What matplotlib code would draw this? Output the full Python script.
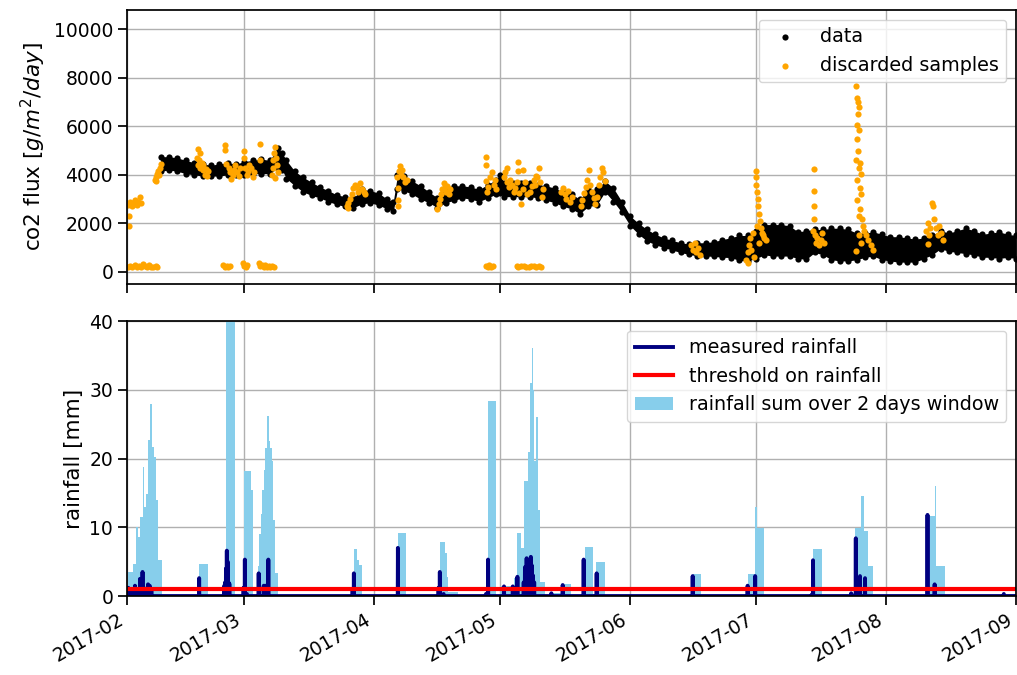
import numpy as np
import matplotlib
matplotlib.use("Agg")
import matplotlib.pyplot as plt
import matplotlib.dates as mdates

# all times are days since 2017-02-01
t0 = mdates.date2num(np.datetime64("2017-02-01"))
t1 = mdates.date2num(np.datetime64("2017-09-01"))

# co2 flux envelope (daily low / high of the kept samples)
flux_day = [8, 10, 12, 14, 16, 18, 20, 22, 24, 26, 28, 30, 32, 34, 36, 37, 38, 40, 42, 44,
            46, 48, 50, 52, 54, 56, 58, 60, 62, 63.5, 64.5, 66, 68, 70, 72, 74, 76, 78, 80, 82,
            84, 86, 88, 89, 90, 92, 94, 96, 98, 100, 102, 104, 106, 108, 110, 112, 114, 116, 118, 120,
            122, 124, 126, 128, 130, 132, 134, 136, 138, 140, 142, 144, 146, 148, 150, 152, 154, 156, 158, 160,
            162, 164, 166, 168, 170, 172, 174, 176, 178, 180, 182, 184, 186, 188, 190, 192, 194, 196, 198, 200,
            202, 204, 206, 208, 210, 212]
flux_low = [4150, 4200, 4150, 4050, 4000, 3950, 3950, 3950, 4000, 4000, 4000, 4050, 4050, 4050, 4300, 4200, 3850, 3550, 3300, 3150,
            3050, 2900, 2780, 2700, 2650, 2800, 2850, 2750, 2600, 2500, 3400, 3350, 3200, 3000, 2850, 2650, 2850, 2950, 3050, 3000,
            2900, 3050, 3200, 3250, 3100, 3100, 3100, 3100, 3050, 2950, 2850, 2700, 2600, 2400, 2700, 2750, 3300, 2900, 2450, 1900,
            1550, 1270, 1120, 1000, 900, 800, 720, 660, 650, 640, 600, 590, 470, 450, 550, 700, 650, 650, 650, 550,
            520, 800, 700, 500, 450, 450, 500, 600, 650, 500, 450, 400, 400, 400, 550, 700, 950, 850, 800, 750,
            700, 600, 600, 550, 600, 550]
flux_high = [4750, 4750, 4700, 4600, 4500, 4450, 4400, 4450, 4500, 4450, 4550, 4600, 4650, 4600, 5100, 4900, 4600, 4150, 3900, 3700,
             3500, 3350, 3180, 3100, 3050, 3400, 3350, 3250, 3000, 2900, 4000, 3950, 3750, 3550, 3300, 3050, 3500, 3550, 3550, 3500,
             3400, 3600, 3800, 4000, 3650, 3650, 3650, 3650, 3600, 3550, 3450, 3300, 3200, 3000, 3400, 3400, 3750, 3450, 2900, 2300,
             2000, 1750, 1550, 1400, 1300, 1200, 1150, 1200, 1200, 1250, 1330, 1410, 1500, 1500, 1700, 1950, 1950, 1950, 1900, 1650,
             1700, 1750, 1750, 1800, 1800, 1750, 1600, 1600, 1650, 1550, 1450, 1450, 1400, 1350, 1400, 1500, 1700, 1600, 1700, 1800,
             1700, 1550, 1600, 1650, 1550, 1500]

# samples discarded because of rain
drop_day = [0.3, 0.6, 0.9, 1.2, 1.5, 1.8, 2.1, 2.4, 2.7, 3.0, 3.3, 0.5, 0.4,
            0.3, 0.8, 1.3, 1.8, 2.3, 2.8, 3.3, 3.8, 4.3, 4.8, 5.3, 5.8, 6.3, 6.8, 7.2,
            6.6, 6.9, 7.2, 7.5, 7.8, 8.1, 7.0, 7.6,
            16.7, 16.9, 17.1, 17.3, 17.5, 17.8, 18.0, 18.2, 18.5, 18.8, 19.1, 19.3, 17.0,
            24.3, 24.6, 24.9, 25.2, 25.5, 25.8, 26.2, 26.6, 26.9, 23.3, 23.3, 23.6,
            23.0, 23.4, 23.8, 24.2, 24.6, 27.7, 28.0, 28.4, 28.7,
            27.8, 28.0, 28.2, 28.5, 28.8, 29.2, 29.6, 30.0, 30.3, 31.7, 31.7,
            31.4, 31.8, 32.2, 32.6, 33.0, 33.4, 33.8, 34.2, 34.6, 35.0,
            34.5, 34.7, 34.9, 35.1, 35.3, 35.5, 35.7, 35.9, 35.2,
            52.4, 52.8, 53.2, 53.6, 54.0, 54.4, 54.8, 55.2, 55.6, 56.0, 56.4, 56.8, 52.6,
            64.6, 64.6, 64.6, 64.5, 64.8, 65.0, 65.3, 65.6, 65.9, 66.3, 66.7,
            74.0, 74.3, 74.6, 74.9, 75.2, 75.5, 75.8, 76.1, 76.4, 76.8, 77.1,
            85.5, 85.5, 85.5, 85.8, 86.2, 86.6, 87.0, 87.4, 87.8, 88.1,
            85.6, 86.0, 86.4, 86.8, 87.2,
            89.8, 90.2, 90.6, 91.0, 91.4, 91.8, 92.2, 92.6, 93.0, 93.5, 94.0, 94.5, 95.0, 95.4, 90.7, 93.2, 94.5, 93.2,
            92.9, 93.3, 94.0, 94.6, 95.2, 95.8, 96.4, 97.0, 97.6, 98.2, 98.7,
            96.2, 96.6, 97.0, 97.4, 97.8, 98.2, 98.5, 98.9, 99.2, 97.5,
            103.6, 104.0, 104.4, 104.8, 105.2, 105.6, 106.0,
            108.2, 108.6, 109.0, 109.4, 109.8, 110.2, 110.5, 110.9, 111.3, 111.7, 112.1, 112.5, 112.9, 113.3, 113.6, 113.9,
            134.6, 135.0, 135.4, 135.8, 136.2, 136.6,
            147.7, 148.0, 148.3, 148.6, 148.9, 149.2, 149.5, 148.1,
            149.9, 150.0, 150.1, 150.2, 150.4, 150.5, 150.7, 150.9, 151.1, 151.4, 151.7, 152.0, 152.3, 150.3, 150.6,
            163.9, 163.9, 163.9, 163.9, 163.7, 164.0, 164.3, 164.6, 165.0, 165.4, 165.8, 166.2,
            173.9, 174.1, 174.4, 174.6, 174.3, 174.0, 174.1, 174.5, 174.3, 173.9, 174.6, 174.9, 175.0, 174.2,
            174.7, 175.0, 174.1, 174.8, 174.5, 175.2, 175.4, 175.8, 176.3, 176.8, 177.4, 177.9, 173.9, 174.6, 175.0,
            190.6, 190.9, 191.2, 191.6, 192.0, 192.2, 192.5, 192.9, 193.3, 193.7, 194.2, 194.7, 190.9]
drop_flux = [2750, 2900, 2800, 2700, 2850, 2950, 2800, 2750, 2900, 3080, 2850, 2300, 1880,
             200, 250, 180, 300, 220, 260, 200, 320, 250, 200, 270, 220, 180, 250, 200,
             3800, 3900, 4050, 4150, 4300, 4450, 3750, 4000,
             4700, 4400, 4600, 4900, 4300, 4500, 4200, 4400, 4000, 4250, 3950, 4150, 5050,
             4300, 4100, 3850, 4000, 4200, 4400, 4100, 3950, 4300, 5230, 5030, 4450,
             300, 200, 250, 180, 230, 350, 250, 200, 300,
             5000, 4700, 4300, 4000, 4150, 4400, 4300, 3900, 4100, 5290, 4620,
             350, 250, 300, 200, 280, 220, 260, 200, 240, 210,
             4000, 4300, 4600, 4900, 5160, 4700, 4400, 4100, 3870,
             2700, 2850, 3000, 3200, 3450, 3600, 3500, 3300, 3650, 3400, 3300, 3200, 2650,
             3450, 2970, 2700, 3900, 4150, 4350, 4000, 4200, 3900, 3700, 3800,
             2600, 2800, 3000, 3200, 3400, 3650, 3500, 3300, 3550, 3200, 3400,
             4750, 4410, 3730, 3300, 3500, 3900, 4100, 3600, 3800, 3400,
             250, 200, 300, 220, 260,
             3900, 4100, 3700, 3500, 3800, 3600, 3300, 3450, 3700, 3250, 2800, 3400, 3700, 3200, 4270, 4550, 4200, 4140,
             250, 200, 230, 250, 220, 200, 250, 230, 210, 240, 220,
             3300, 3550, 3800, 3600, 3900, 4270, 3700, 3100, 3400, 3950,
             3300, 3450, 3200, 3000, 3350, 2900, 3100,
             2700, 2950, 3250, 3500, 3800, 4200, 3600, 3300, 3050, 2800, 3100, 3600, 3900, 4300, 4100, 3750,
             1100, 900, 1200, 800, 1000, 700,
             500, 800, 1100, 1400, 900, 1600, 600, 380,
             4150, 3900, 3600, 3300, 3000, 2700, 2400, 2100, 1800, 1600, 1500, 1400, 1300, 1900, 1200,
             4230, 3330, 2720, 2170, 1700, 1500, 1200, 1400, 1100, 1300, 1600, 1200,
             7680, 7150, 7000, 6800, 6500, 6050, 5460, 5870, 4980, 4600, 4300, 4500, 4050, 3800,
             3470, 3200, 2950, 2580, 2300, 2200, 1900, 1700, 1500, 1300, 1100, 900, 865, 1500, 1200,
             1700, 2000, 1500, 1800, 2850, 2700, 2200, 1800, 1500, 1900, 1600, 1300, 1150]

# hourly rain gauge readings (only the non-zero ones)
rain_day = [0.3, 0.6, 1.0, 1.9, 2.3, 3.1, 3.4, 3.7, 4.0, 4.4, 5.0, 5.4, 5.8,
            17.2, 23.2, 23.4, 23.6, 23.8, 24.0, 24.2, 24.4,
            27.8, 28.1, 28.6, 31.4, 32.6, 33.0, 33.7,
            53.8, 54.1, 64.6, 74.3, 74.6, 75.5, 85.6, 86.1,
            89.9, 92.0, 93.1, 94.6, 94.9, 95.1, 95.3, 95.5, 95.8, 96.0, 96.3, 96.5, 96.8, 97.1,
            101.2, 103.9, 108.9, 112.0, 134.9, 148.0, 149.8, 163.3, 163.6,
            172.7, 173.8, 174.8, 176.0, 190.9, 192.6, 209.1]
rain_mm = [1.2, 1.0, 0.8, 1.5, 0.8, 2.5, 1.5, 3.5, 1.2, 1.0, 1.7, 1.5, 0.8,
           2.6, 1.5, 2.0, 4.0, 6.6, 5.0, 2.0, 1.8,
           1.2, 5.3, 0.3, 3.3, 1.5, 1.5, 5.3,
           1.0, 3.3, 7.0, 1.2, 3.5, 0.3, 0.3, 5.3,
           1.4, 1.4, 2.8, 2.0, 4.2, 3.5, 5.5, 4.8, 5.2, 4.0, 5.7, 4.5, 3.0, 2.0,
           0.4, 1.6, 5.3, 3.3, 2.9, 1.5, 2.9, 0.2, 5.2,
           0.4, 8.4, 2.9, 2.6, 11.8, 1.7, 0.3]

# rolling 2-day rain sum (value holds until the next entry)
sum_day = [0.3, 1.5, 2.1, 2.5, 3.1, 3.7, 4.1, 4.5, 4.9, 5.5, 5.9, 6.5, 6.9, 7.5, 8.3,
           17.2, 19.2,
           23.4, 23.7, 25.8,
           27.4, 27.9, 29.6, 30.1,
           31.3, 31.5, 31.9, 32.2, 32.6, 33.0, 33.5, 33.8, 34.2, 34.5, 34.9, 35.4, 36.0,
           53.3, 53.9, 54.1, 54.9, 55.3, 56.0,
           64.6, 66.6,
           74.2, 74.6, 75.8, 76.3, 76.6, 78.9,
           85.6, 86.1, 87.9,
           88.9, 92.4, 93.0, 94.0, 94.6, 95.6, 96.0, 96.5, 96.9, 97.0, 97.5, 97.9, 98.6, 99.6,
           101.2, 103.8, 105.9,
           108.9, 109.3, 111.1, 111.9, 114.0,
           134.9, 136.9,
           148.0, 149.8, 150.2, 151.8,
           163.6, 165.7,
           172.7, 173.6, 175.0, 175.8, 176.8, 177.9,
           190.7, 192.8, 192.95, 195.0,
           208.7, 212.0]
sum_mm = [3.5, 4.7, 10.0, 8.6, 11.5, 18.8, 13.0, 14.9, 22.7, 28.0, 21.7, 20.2, 14.0, 5.2, 0,
          4.7, 0,
          6.0, 45.0, 0,
          1.4, 18.2, 15.4, 0,
          4.3, 9.0, 12.0, 15.4, 18.3, 21.6, 26.2, 22.5, 21.6, 19.7, 11.0, 3.3, 0,
          1.1, 3.3, 6.9, 5.2, 4.5, 0,
          9.1, 0,
          1.6, 7.9, 6.2, 2.8, 0.6, 0,
          0.3, 28.3, 0,
          1.4, 2.6, 9.1, 7.0, 16.8, 21.0, 31.0, 36.1, 30.0, 19.7, 26.0, 12.5, 2.0, 0,
          0.4, 1.8, 0,
          5.3, 7.2, 0.3, 5.0, 0,
          3.2, 0,
          3.2, 13.0, 9.9, 0,
          6.9, 0,
          0.4, 9.9, 14.6, 9.4, 4.4, 0,
          11.7, 16.0, 4.4, 0,
          0.3, 0.3]

rain_threshold = 1.0

plt.rcParams.update({
    "font.size": 13.5,
    "axes.labelsize": 15.5,
    "legend.fontsize": 13.8,
    "axes.linewidth": 1.25,
    "grid.color": "#b0b0b0",
    "grid.linewidth": 1.0,
    "xtick.major.size": 6.5,
    "ytick.major.size": 6.5,
    "xtick.major.width": 1.25,
    "ytick.major.width": 1.25,
})

fig = plt.figure(figsize=(10.17, 6.75), dpi=100)
ax1 = fig.add_axes([0.1249, 0.5793, 0.8741, 0.4059])
ax2 = fig.add_axes([0.1249, 0.1170, 0.8741, 0.4074], sharex=ax1)

# --- co2 flux ---
fd = t0 + np.array(flux_day)
ax1.fill_between(fd, flux_low, flux_high, color="black", lw=0)
ax1.scatter(fd, flux_low, s=20, color="black", lw=0)
ax1.scatter(fd, flux_high, s=20, color="black", lw=0, label="data")
ax1.scatter(t0 + np.array(drop_day), drop_flux, s=20, color="orange", lw=0,
            label="discarded samples")
ax1.set_ylim(-500, 10800)
ax1.set_yticks([0, 2000, 4000, 6000, 8000, 10000])
ax1.set_ylabel("co2 flux [$g/m^2/day$]")
ax1.grid(True)
ax1.set_axisbelow(True)
ax1.tick_params(labelbottom=False)
ax1.legend(loc="upper right")

# --- rainfall ---
rd = np.array(rain_day)
rv = np.array(rain_mm)
# each reading is a single hourly spike, zero before and after
spike_t = np.column_stack([rd - 0.04, rd, rd + 0.04]).ravel()
spike_v = np.column_stack([np.zeros_like(rv), rv, np.zeros_like(rv)]).ravel()
line_t = np.concatenate([[0.0], spike_t, [t1 - t0]]) + t0
line_v = np.concatenate([[0.0], spike_v, [0.0]])

ax2.fill_between(t0 + np.array(sum_day), sum_mm, step="post", color="skyblue", lw=0,
                 label="rainfall sum over 2 days window")
ax2.plot(line_t, line_v, color="navy", lw=2.8, label="measured rainfall")
ax2.axhline(rain_threshold, color="red", lw=3, label="threshold on rainfall")
ax2.set_ylim(0, 40)
ax2.set_yticks([0, 10, 20, 30, 40])
ax2.set_ylabel("rainfall [mm]")
ax2.grid(True)
ax2.set_axisbelow(True)
h, l = ax2.get_legend_handles_labels()
order = [l.index("measured rainfall"), l.index("threshold on rainfall"),
         l.index("rainfall sum over 2 days window")]
ax2.legend([h[i] for i in order], [l[i] for i in order], loc="upper right")

ax2.set_xlim(t0, t1)
ax2.xaxis.set_major_locator(mdates.MonthLocator())
ax2.xaxis.set_major_formatter(mdates.DateFormatter("%Y-%m"))
plt.setp(ax2.get_xticklabels(), rotation=30, ha="right")

fig.savefig("out.png", dpi=100)
